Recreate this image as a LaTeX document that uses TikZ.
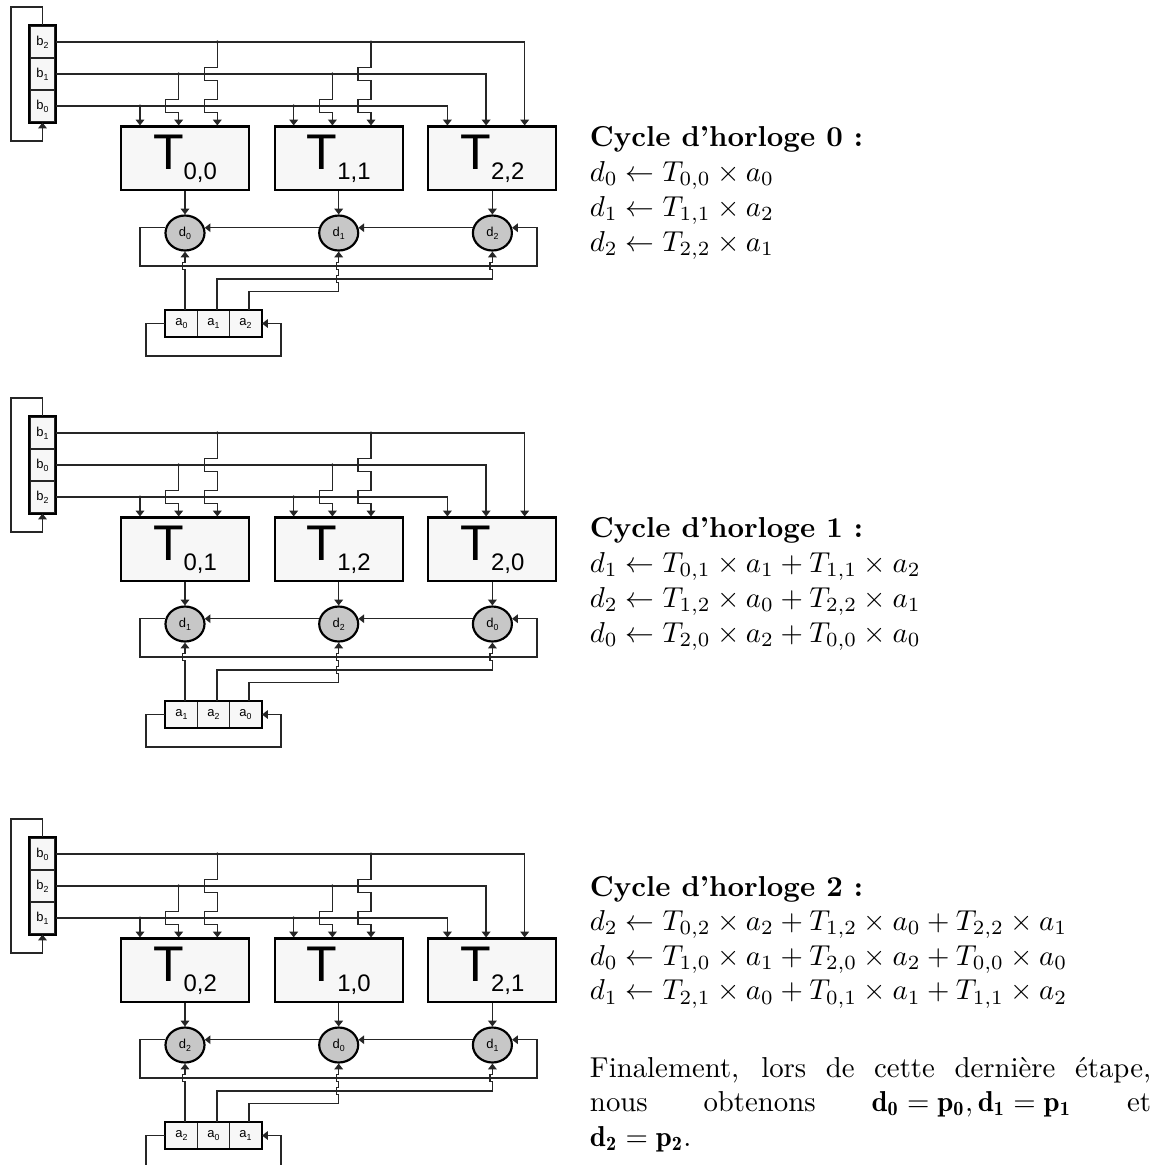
\documentclass[tikz,border=0pt]{standalone}
\usepackage{fontspec}
\newfontfamily\arial{Liberation Sans}
\usetikzlibrary{arrows.meta,calc,shapes.geometric}
\def\u{0.3472pt}
\newcommand\Tlab[2]{{\fontsize{17.4}{18}\selectfont T}\lower3.47pt\hbox{\fontsize{8.3}{9}\selectfont #1,#2}}
\newcommand\slab[2]{#1\lower0.95pt\hbox{\fontsize{3.05}{3.5}\selectfont #2}}
\tikzset{
 wire/.style={line width=0.42pt, draw=black!85},
 arr/.style={wire, -{Triangle[length=2pt,width=3pt]}},
 frame/.style={line width=0.75pt, draw=black},
 tbox/.style={rectangle, draw=black, line width=0.75pt, fill=black!3, minimum width=128*\u, minimum height=63.8*\u, inner sep=0pt, font=\arial},
 dnode/.style={ellipse, draw=black, line width=0.75pt, fill=black!22, minimum width=39*\u, minimum height=35*\u, inner sep=0pt, font=\arial\fontsize{4.5}{5}\selectfont},
 bcell/.style={rectangle, draw=black!85, line width=0.42pt, fill=black!3, minimum width=25*\u, minimum height=32*\u, inner sep=0pt, font=\arial\fontsize{4.5}{5}\selectfont},
 acell/.style={bcell, minimum width=32*\u, minimum height=25.6*\u},
 txt/.style={anchor=base west, inner sep=0pt, outer sep=0pt},
 jdot/.style={fill=black!85}
}
% #1 vertical offset, #2 #3 #4 second indices of the three columns, #5 #6 #7 b labels (top, middle, bottom)
\newcommand\diagram[7]{%
\begin{scope}[name prefix=G#1-]
  % b register
  \node[bcell] (bA) at (42.5,{#1+42}) {\slab{b}{#5}};
  \node[bcell] (bB) at (42.5,{#1+74}) {\slab{b}{#6}};
  \node[bcell] (bC) at (42.5,{#1+106}) {\slab{b}{#7}};
  \draw[frame] (bA.north west) rectangle (bC.south east);
  \coordinate (bL1) at (11,{#1+7});
  \coordinate (bL2) at (11,{#1+141});
  \draw[arr] (bA.north) |- (bL1) |- (bL2 -| bC.south) -- (bC.south);
  % T boxes
  \node[tbox] (T0) at (185,{#1+158.4}) {\Tlab{0}{#2}};
  \node[tbox] (T1) at (338.7,{#1+158.4}) {\Tlab{1}{#3}};
  \node[tbox] (T2) at (492.4,{#1+158.4}) {\Tlab{2}{#4}};
  \foreach \k in {0,1,2}{
    \coordinate (Tl\k) at ($(T\k.north)+(-45,0)$);
    \coordinate (Tm\k) at ($(T\k.north)+(-6.3,0)$);
    \coordinate (Tr\k) at ($(T\k.north)+(32.3,0)$);
  }
  \draw[arr] (bC.east) -| (Tl2);
  \draw[arr] (bB.east) -| (Tm2);
  \draw[arr] (bA.east) -| (Tr2);
  \foreach \k in {0,1}{
    \fill[jdot] (bC.east -| Tl\k) circle[radius=0.6pt];
    \draw[arr] (bC.east -| Tl\k) -- (Tl\k);
    \fill[jdot] (bB.east -| Tm\k) circle[radius=0.6pt];
    \draw[arr] (bB.east -| Tm\k) -- ++(0,25.7) -- ++(-13,0) -- ++(0,12.6) -- ++(13,0) -- (Tm\k);
    \fill[jdot] (bA.east -| Tr\k) circle[radius=0.6pt];
    \draw[arr] (bA.east -| Tr\k) -- ++(0,25.7) -- ++(-13,0) -- ++(0,12.6) -- ++(13,0)
       -- ++(0,19.4) -- ++(-13,0) -- ++(0,12.6) -- ++(13,0) -- (Tr\k);
  }
  % d accumulators
  \node[dnode] (D0) at (185,{#1+233}) {\slab{d}{#2}};
  \node[dnode] (D1) at (338.7,{#1+233}) {\slab{d}{#3}};
  \node[dnode] (D2) at (492.4,{#1+233}) {\slab{d}{#4}};
  \draw[arr] (T0.south) -- (D0.north);
  \draw[arr] (T1.south) -- (D1.north);
  \draw[arr] (T2.south) -- (D2.north);
  \draw[arr] (D1.165) -- (D0.15);
  \draw[arr] (D2.165) -- (D1.15);
  \coordinate (LL) at (140,{#1+266});
  \coordinate (LR) at (537,{#1+266});
  \draw[arr] (D0.165) -| (LL) -- (LR) |- (D2.15);
  % a register
  \node[acell] (A0) at (181.5,{#1+323.5}) {\slab{a}{#2}};
  \node[acell] (A1) at (213.5,{#1+323.5}) {\slab{a}{#3}};
  \node[acell] (A2) at (245.5,{#1+323.5}) {\slab{a}{#4}};
  \draw[frame] (A0.north west) rectangle (A2.south east);
  \coordinate (AL) at (146,{#1+356});
  \coordinate (AR) at (281,{#1+323.5});
  \draw[arr] (A0.west) -| (AL) -| (AR) -- (A2.east);
  \coordinate (H1) at (0,{#1+279});
  \coordinate (H2) at (0,{#1+291.7});
  \coordinate (J1) at (0,{#1+269.5});
  \coordinate (J2) at (0,{#1+282.5});
  \draw[arr] (A0.north -| D0.south) -- (D0.south |- J1) -- ++(-2.5,0) -- ++(0,-7) -- ++(2.5,0) -- (D0.south);
  \draw[arr] ($(A1.north)+(3.5,0)$) |- (D2.south |- H1) -- (D2.south |- J1) -- ++(-2.5,0) -- ++(0,-7) -- ++(2.5,0) -- (D2.south);
  \draw[arr] ($(A2.north)+(3.5,0)$) |- (D1.south |- H2) -- (D1.south |- J2) -- ++(-2.5,0) -- ++(0,-7) -- ++(2.5,0)
     -- (D1.south |- J1) -- ++(-2.5,0) -- ++(0,-7) -- ++(2.5,0) -- (D1.south);
\end{scope}}
\begin{document}
\begin{tikzpicture}[x=0.3472pt, y=-0.3472pt]
\useasboundingbox (0,0) rectangle (1158,1165);
\clip (0,0) rectangle (1158,1165);
\diagram{0}{0}{1}{2}{2}{1}{0}
\diagram{391}{1}{2}{0}{1}{0}{2}
\diagram{812}{2}{0}{1}{0}{2}{1}
% texts
\node[txt] (c0h) at (590,146) {\bfseries Cycle d'horloge 0 :};
\node[txt] (c0a) at (590,181) {$d_0 \leftarrow T_{0,0}\times a_0$};
\node[txt] (c0b) at (590,216) {$d_1 \leftarrow T_{1,1}\times a_2$};
\node[txt] (c0c) at (590,251) {$d_2 \leftarrow T_{2,2}\times a_1$};
\node[txt] (c1h) at (590,537) {\bfseries Cycle d'horloge 1 :};
\node[txt] (c1a) at (590,572) {$d_1 \leftarrow T_{0,1}\times a_1 + T_{1,1}\times a_2$};
\node[txt] (c1b) at (590,607) {$d_2 \leftarrow T_{1,2}\times a_0 + T_{2,2}\times a_1$};
\node[txt] (c1c) at (590,642) {$d_0 \leftarrow T_{2,0}\times a_2 + T_{0,0}\times a_0$};
\node[txt] (c2h) at (590,896) {\bfseries Cycle d'horloge 2 :};
\node[txt] (c2a) at (590,930.6) {$d_2 \leftarrow T_{0,2}\times a_2 + T_{1,2}\times a_0 + T_{2,2}\times a_1$};
\node[txt] (c2b) at (590,965.1) {$d_0 \leftarrow T_{1,0}\times a_1 + T_{2,0}\times a_2 + T_{0,0}\times a_0$};
\node[txt] (c2c) at (590,999.7) {$d_1 \leftarrow T_{2,1}\times a_0 + T_{0,1}\times a_1 + T_{1,1}\times a_2$};
\node[txt] (f1) at (590,1077) {\makebox[194.8pt][s]{Finalement, lors de cette dernière étape,}};
\node[txt] (f2) at (590,1111.6) {\makebox[194.8pt][s]{nous obtenons \mbox{$\mathbf{d_0=p_0,d_1=p_1}$} et}};
\node[txt] (f3) at (590,1146.2) {$\mathbf{d_2=p_2}$.};
\end{tikzpicture}
\end{document}
